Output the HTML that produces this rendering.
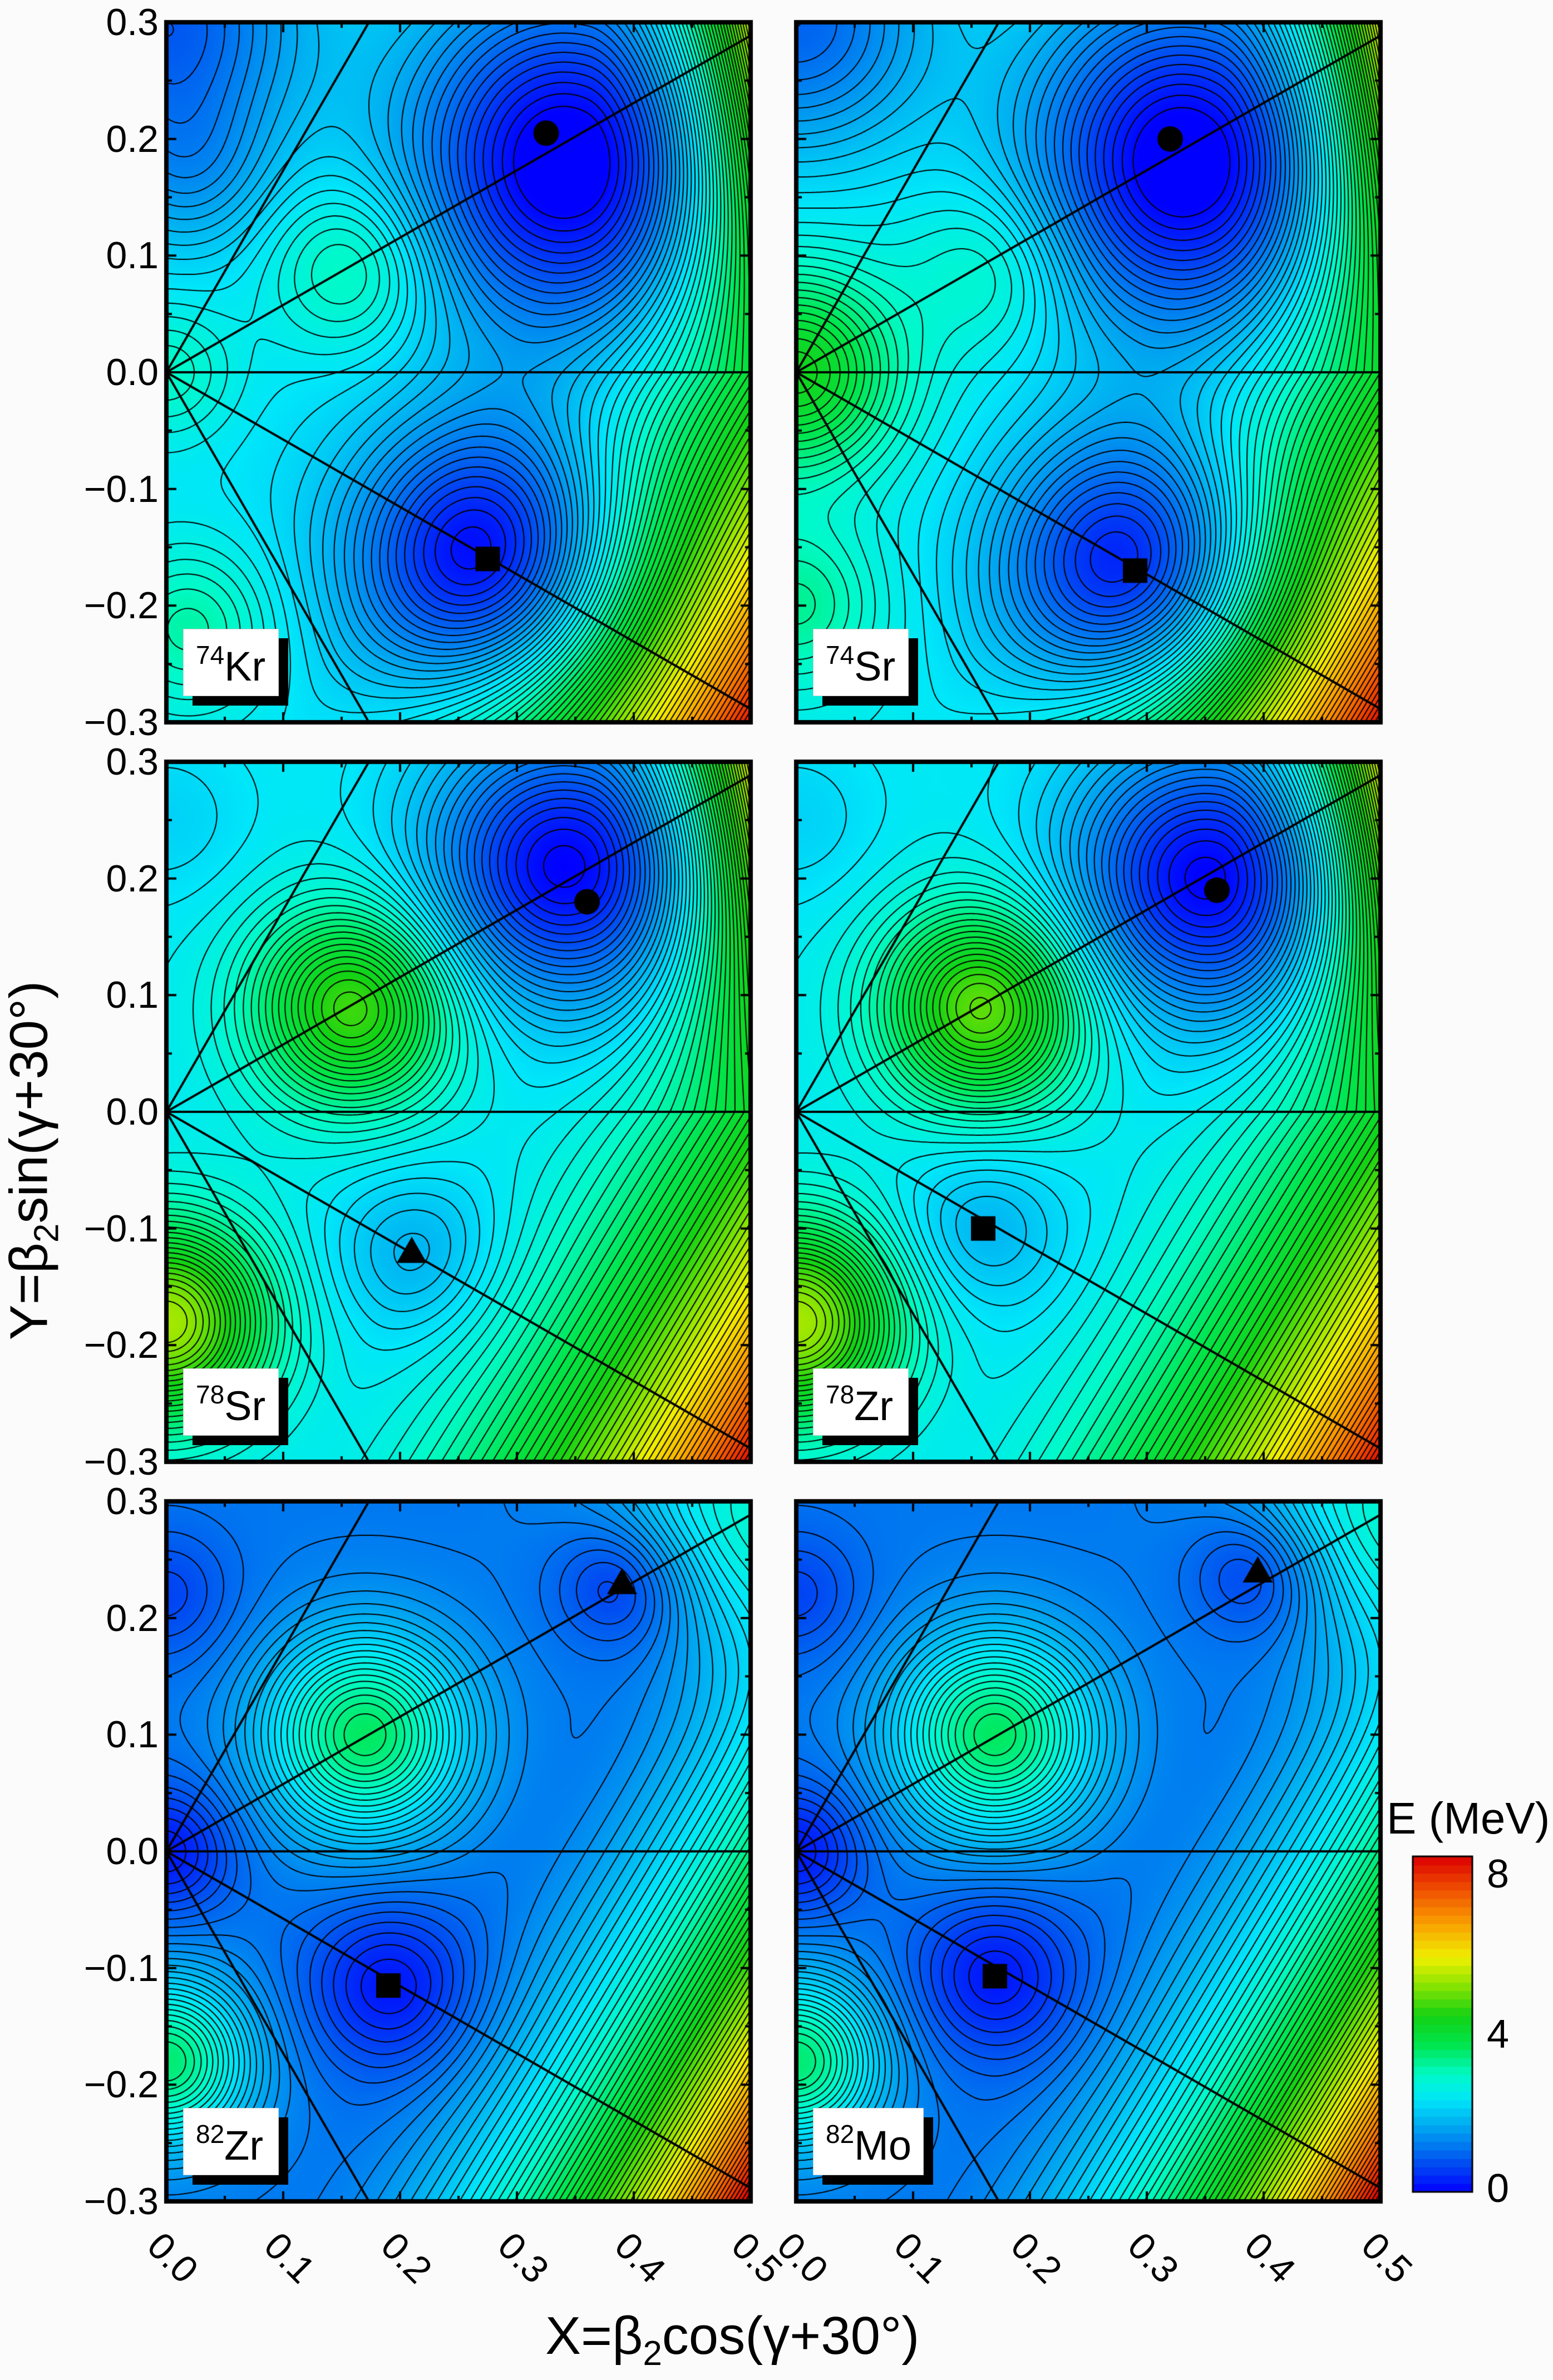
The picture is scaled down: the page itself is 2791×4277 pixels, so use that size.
<!DOCTYPE html>
<html><head><meta charset="utf-8">
<style>
html,body{margin:0;padding:0;background:#fbfbfb;}
body{width:2791px;height:4277px;position:relative;overflow:hidden;font-family:"Liberation Sans",sans-serif;color:#000;}
canvas{position:absolute;}
.t{position:absolute;font-size:68px;line-height:1;white-space:nowrap;}
.yl{width:200px;text-align:right;}
.xl{transform-origin:0 50%;transform:rotate(45deg);}
.lab{position:absolute;background:#fff;box-shadow:17px 17px 0 #000;border:1px solid #ccc;font-size:74px;line-height:1;}
.lab sup{font-size:46px;vertical-align:0;position:relative;top:-30px;}
</style></head><body>
<canvas id="c" width="2791" height="4277" style="left:0;top:0"></canvas>
<div id="txt"></div>
<div class="t" style="left:2492px;top:3228px;font-size:80px;">E (MeV)</div>
<div class="t" style="left:2672px;top:3332px;font-size:72px;">8</div>
<div class="t" style="left:2672px;top:3620px;font-size:72px;">4</div>
<div class="t" style="left:2672px;top:3897px;font-size:72px;">0</div>
<div class="t" style="left:980px;top:4150px;font-size:96px;">X=β<sub style="font-size:62px;">2</sub>cos(γ+30°)</div>
<div class="t" style="left:-340px;top:2030px;font-size:96px;width:800px;text-align:center;transform:rotate(-90deg);">Y=β<sub style="font-size:62px;">2</sub>sin(γ+30°)</div>
<script>
const PW=1050,PH=1258;
const cols=[299,1431], rows=[40,1369,2698];
const stops=[[0,0,0,255],[0.8,0,90,240],[1.6,0,170,240],[2.2,0,230,250],[2.8,0,250,200],[3.5,0,230,80],[4.2,20,210,20],[5.0,150,230,0],[5.6,240,240,0],[6.4,250,160,0],[7.2,240,80,0],[8.0,220,0,0]];
function cmap(e){if(e<=0)return stops[0].slice(1);if(e>=8)return stops[stops.length-1].slice(1);
for(let i=1;i<stops.length;i++){if(e<=stops[i][0]){const a=stops[i-1],b=stops[i],t=(e-a[0])/(b[0]-a[0]);return [a[1]+(b[1]-a[1])*t,a[2]+(b[2]-a[2])*t,a[3]+(b[3]-a[3])*t];}}}
const P=[
{name:"74",el:"Kr",b0:2.2,kbr:35,x1:0.28,ktr:170,g:[[0.34,0.18,-2.4,0.09,0.1],[0.275,-0.16,-2.3,0.08,0.08],[0.16,0.09,0.8,0.05,0.05],[0,0.3,-1.4,0.08,0.08],[0.02,-0.22,0.8,0.05,0.05],[0,0,0.6,0.04,0.04],[0.02,0.17,-0.6,0.05,0.05]],m:[["c",0.325,0.205],["s",0.275,-0.16]]},
{name:"74",el:"Sr",b0:2.3,kbr:35,x1:0.28,ktr:170,g:[[0.33,0.18,-2.5,0.09,0.1],[0.29,-0.17,-2.3,0.08,0.08],[0.17,0.09,0.6,0.05,0.05],[0,0,1.8,0.06,0.06],[0,0.3,-1.4,0.08,0.08],[0,-0.2,0.8,0.05,0.05]],m:[["c",0.32,0.2],["s",0.29,-0.17]]},
{name:"78",el:"Sr",b0:2.3,kbr:35,x1:0.28,ktr:170,g:[[0.34,0.21,-2.3,0.08,0.08],[0.16,0.09,2.2,0.06,0.06],[0.21,-0.12,-0.6,0.05,0.05],[0,-0.18,2.8,0.06,0.06],[0,0.25,-0.3,0.05,0.05]],m:[["c",0.36,0.18],["t",0.21,-0.12]]},
{name:"78",el:"Zr",b0:2.3,kbr:35,x1:0.28,ktr:170,g:[[0.35,0.2,-2.3,0.08,0.08],[0.16,0.09,2.4,0.06,0.06],[0.16,-0.1,-0.6,0.05,0.05],[0,-0.18,2.8,0.06,0.06],[0,0.25,-0.3,0.05,0.05]],m:[["c",0.36,0.19],["s",0.16,-0.1]]},
{name:"82",el:"Zr",b0:1.1,kbr:44,x1:0.28,ktr:0,g:[[0.17,0.1,2.3,0.06,0.06],[0.39,0.23,-0.8,0.04,0.04],[0.19,-0.115,-0.9,0.05,0.05],[0,0,-0.9,0.04,0.04],[0,0.22,-0.5,0.04,0.04],[0,-0.18,2.2,0.05,0.05],[0.5,0.3,1.5,0.08,0.08]],m:[["t",0.39,0.23],["s",0.19,-0.115]]},
{name:"82",el:"Mo",b0:1.1,kbr:44,x1:0.28,ktr:0,g:[[0.17,0.1,2.3,0.06,0.06],[0.395,0.24,-0.8,0.04,0.04],[0.17,-0.107,-0.9,0.05,0.05],[0,0,-0.9,0.04,0.04],[0,0.22,-0.5,0.04,0.04],[0,-0.18,2.2,0.05,0.05],[0.5,0.3,1.5,0.08,0.08]],m:[["t",0.395,0.24],["s",0.17,-0.107]]}
];
function E(p,x,y){let e=p.b0;const u=Math.max(0,x-p.x1-0.6*y);e+=p.kbr*u*u;const w=Math.max(0,x-0.36);e+=p.ktr*w*w*Math.max(0,y)/0.3;
for(const g of p.g){const dx=(x-g[0])/g[3],dy=(y-g[1])/g[4];e+=g[2]*Math.exp(-0.5*(dx*dx+dy*dy));}return Math.max(0,Math.min(8.5,e));}
const cv=document.getElementById('c'),ctx=cv.getContext('2d');
const tx=document.getElementById('txt');let html='';
const S=4,DL=0.12;
P.forEach((p,i)=>{
 const ox=cols[i%2],oy=rows[Math.floor(i/2)];
 const gw=Math.ceil(PW/S)+1,gh=Math.ceil(PH/S)+1;const G=new Float32Array(gw*gh);
 for(let j=0;j<gh;j++)for(let k=0;k<gw;k++){const x=k*S/PW*0.5,y=0.3-j*S/PH*0.6;G[j*gw+k]=E(p,x,y);}
 const img=ctx.createImageData(PW,PH);const d=img.data;
 for(let py=0;py<PH;py++){const fj=py/S,j0=Math.floor(fj),tj=fj-j0;for(let px=0;px<PW;px++){const fk=px/S,k0=Math.floor(fk),tk=fk-k0;
  const a=G[j0*gw+k0],b=G[j0*gw+k0+1],c=G[(j0+1)*gw+k0],dd=G[(j0+1)*gw+k0+1];
  const e=(a*(1-tk)+b*tk)*(1-tj)+(c*(1-tk)+dd*tk)*tj;const col=cmap(e);const q=(py*PW+px)*4;d[q]=col[0];d[q+1]=col[1];d[q+2]=col[2];d[q+3]=255;}}
 ctx.putImageData(img,ox,oy);
 ctx.save();ctx.beginPath();ctx.rect(ox,oy,PW,PH);ctx.clip();
 ctx.beginPath();ctx.strokeStyle='#000';ctx.lineWidth=2;
 for(let j=0;j<gh-1;j++)for(let k=0;k<gw-1;k++){
  const v0=G[j*gw+k],v1=G[j*gw+k+1],v2=G[(j+1)*gw+k+1],v3=G[(j+1)*gw+k];
  const mn=Math.min(v0,v1,v2,v3),mx=Math.max(v0,v1,v2,v3);
  let L=Math.ceil((mn-0.06)/DL)*DL+0.06;
  for(;L<mx;L+=DL){const pts=[];const X=ox+k*S,Y=oy+j*S;
   if((v0<L)!=(v1<L))pts.push([X+S*(L-v0)/(v1-v0),Y]);
   if((v1<L)!=(v2<L))pts.push([X+S,Y+S*(L-v1)/(v2-v1)]);
   if((v3<L)!=(v2<L))pts.push([X+S*(L-v3)/(v2-v3),Y+S]);
   if((v0<L)!=(v3<L))pts.push([X,Y+S*(L-v0)/(v3-v0)]);
   for(let q=0;q+1<pts.length;q+=2){ctx.moveTo(pts[q][0],pts[q][1]);ctx.lineTo(pts[q+1][0],pts[q+1][1]);}
  }}
 ctx.stroke();
 ctx.beginPath();ctx.lineWidth=4;const cx=ox,cy=oy+PH/2;
 ctx.moveTo(cx,cy);ctx.lineTo(ox+PW,cy);
 ctx.moveTo(cx,cy);ctx.lineTo(ox+PW,oy+24);
 ctx.moveTo(cx,cy);ctx.lineTo(ox+PW,oy+PH-24);
 ctx.moveTo(cx,cy);ctx.lineTo(ox+364,oy);
 ctx.moveTo(cx,cy);ctx.lineTo(ox+364,oy+PH);
 ctx.stroke();
 ctx.restore();
 ctx.fillStyle='#000';
 p.m.forEach(m=>{const mx=ox+m[1]/0.5*PW,my=oy+(0.3-m[2])/0.6*PH;
  if(m[0]=='c'){ctx.beginPath();ctx.arc(mx,my,23,0,7);ctx.fill();}
  else if(m[0]=='s'){ctx.fillRect(mx-22,my-22,44,44);}
  else{ctx.beginPath();ctx.moveTo(mx,my-27);ctx.lineTo(mx+27,my+20);ctx.lineTo(mx-27,my+20);ctx.closePath();ctx.fill();}});
 ctx.strokeStyle='#000';ctx.lineWidth=4;ctx.beginPath();
 for(let t=0;t<=10;t++){const x=ox+t*PW/10,l=t%2?10:18;ctx.moveTo(x,oy);ctx.lineTo(x,oy+l);ctx.moveTo(x,oy+PH);ctx.lineTo(x,oy+PH-l);}
 for(let t=0;t<=12;t++){const y=oy+t*PH/12,l=t%2?10:18;ctx.moveTo(ox,y);ctx.lineTo(ox+l,y);ctx.moveTo(ox+PW,y);ctx.lineTo(ox+PW-l,y);}
 ctx.stroke();
 ctx.lineWidth=8;ctx.strokeRect(ox,oy,PW,PH);
 const bw=p.el=="Mo"?197:170;
 html+=`<div class="lab" style="left:${ox+30}px;top:${oy+1090}px;width:${bw}px;height:119px;"><div style="position:absolute;left:22px;top:30px;"><sup>${p.name}</sup>${p.el}</div></div>`;
 if(i%2==0){const v=["0.3","0.2","0.1","0.0","−0.1","−0.2","−0.3"];
  v.forEach((s,q)=>{html+=`<div class="t yl" style="left:85px;top:${oy+q*PH/6-34}px;">${s}</div>`;});}
});
cols.forEach(ox=>{for(let t=0;t<=5;t++){html+=`<div class="t xl" style="left:${ox+t*PW/5-22}px;top:${3990}px;">0.${t}</div>`;}});
tx.innerHTML=html;
const bx=2539,by=3336,bw=107,bh=603;
for(let k=0;k<40;k++){const e=(k+0.5)*8/40;const c=cmap(e);ctx.fillStyle=`rgb(${c[0]|0},${c[1]|0},${c[2]|0})`;ctx.fillRect(bx,by+bh-(k+1)*bh/40,bw,bh/40+1);}
ctx.lineWidth=3;ctx.strokeStyle='#000';ctx.strokeRect(bx,by,bw,bh);
</script>
</body></html>
